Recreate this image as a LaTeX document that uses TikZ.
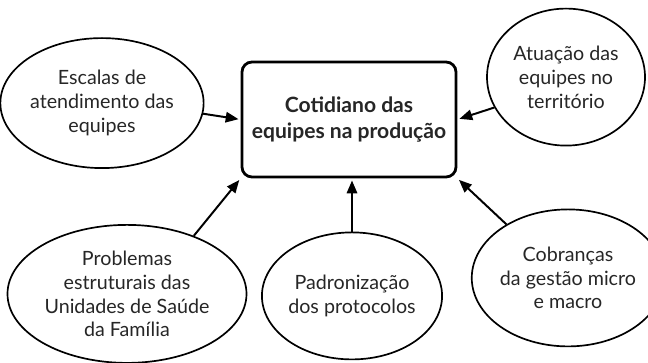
\documentclass[tikz,border=0pt]{standalone}
\usepackage{fontspec}
\setmainfont{Lato}
\usepackage{tikz}
\usetikzlibrary{arrows.meta,positioning,shapes.geometric}

\begin{document}
\begin{tikzpicture}[
    auto,
    node distance=4.4cm,
    >={Triangle[length=3.2mm,width=2.6mm]},
    font=\fontsize{14}{17}\selectfont,
    core/.style={
		rectangle,
		rounded corners=2.5mm,
		draw=black,
		line width=2pt,
		text centered,
		align=center,
		minimum width=5.35cm,
		minimum height=2.875cm,
		text=black!85,
		font=\fontsize{15}{18.5}\selectfont\bfseries,
		fill=white
	},
	topic/.style={
		ellipse,
		draw=black,
		line width=1.2pt,
		inner sep=0pt,
		align=center,
		text=black!85
	},
	link/.style={
		->,
		line width=1.4pt,
		shorten >=1.5pt
	}
  ]
  \useasboundingbox (-8.725,-6.0875) rectangle (7.475,2.9875);

  % central block
  \node [core] (core) {Cotidiano das\\equipes na produção};

  % the five surrounding topics
  \node [topic, left of=core, xshift=-1.775cm, yshift=0.41cm,
         minimum width=4.75cm, minimum height=3.25cm] (topic1)
  {Escalas de\\atendimento das\\equipes};

  \node [topic, right of=core, xshift=1.025cm, yshift=1.06cm,
         minimum width=3.95cm, minimum height=3.425cm] (topic2)
  {Atuação das\\equipes no\\território};

  \node [topic, below of=core, xshift=-5.55cm, yshift=0.04cm,
         minimum width=5.975cm, minimum height=3.45cm] (topic3)
  {Problemas\\estruturais das\\Unidades de Saúde\\da Família};

  \node [topic, below of=core, xshift=0.075cm, yshift=-0.01cm,
         minimum width=3.925cm, minimum height=3.175cm] (topic4)
  {Padronização\\dos protocolos};

  \node [topic, below of=core, xshift=5.475cm, yshift=0.44cm,
         minimum width=4.0cm, minimum height=3.425cm] (topic5)
  {Cobranças\\da gestão micro\\e macro};

  \draw [link] (topic1.-6) -- (core.west);
  \draw [link] (topic2.-157) -- (core.east);
  \draw [link] (topic3.41) -- (core.south west);
  \draw [link] (topic4.north) -- (topic4.north |- core.south);
  \draw [link] (topic5.139) -- (core.south east);

\end{tikzpicture}
\end{document}
